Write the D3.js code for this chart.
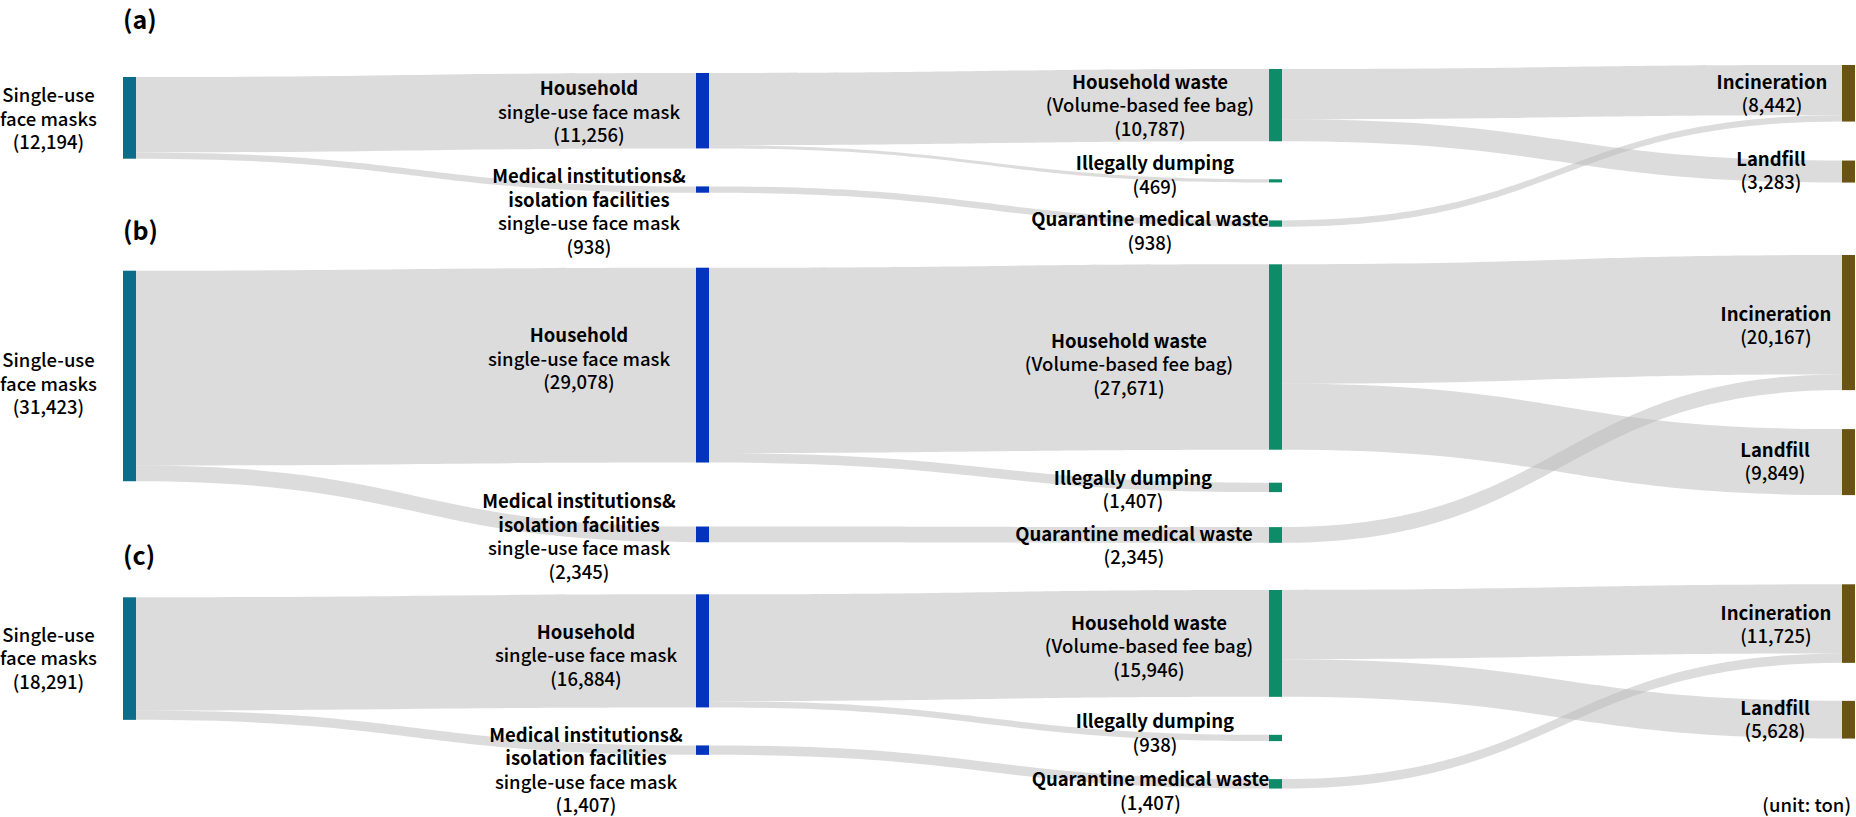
<!DOCTYPE html>
<html>
<head>
<meta charset="utf-8">
<script src="https://cdn.jsdelivr.net/npm/d3@7"></script>
<style>
  html, body { margin: 0; padding: 0; background: #ffffff; }
  svg { display: block; }
  text { font-family: 'Noto Sans CJK KR', 'Noto Sans', sans-serif; fill: #000; }
</style>
</head>
<body>
<script>
// ---------------- DATA (unit: ton) ----------------
const panels = ["(a)", "(b)", "(c)"];
const sourceTotals     = [12194, 31423, 18291];
const householdMask    = [11256, 29078, 16884];
const medicalMask      = [938, 2345, 1407];
const householdWaste   = [10787, 27671, 15946];
const illegalDumping   = [469, 1407, 938];
const quarantineWaste  = [938, 2345, 1407];
const incineration     = [8442, 20167, 11725];
const landfill         = [3283, 9849, 5628];
const unitLabel = "(unit: ton)";

// node label lines: [text, bold]
const nodeLabels = {
  src: [["Single-use", false], ["face masks", false]],
  hh:  [["Household", true], ["single-use face mask", false]],
  med: [["Medical institutions&", true], ["isolation facilities", true], ["single-use face mask", false]],
  hw:  [["Household waste", true], ["(Volume-based fee bag)", false]],
  ill: [["Illegally dumping", true]],
  qua: [["Quarantine medical waste", true]],
  inc: [["Incineration", true]],
  lan: [["Landfill", true]]
};

// ---------------- LAYOUT ----------------
const W = 1856, H = 817;
const nodeWidth = 13;
const lineH = 23.5;
const fontSize = 18.5;
const colorsByCol = ["#0b6d89", "#0433be", "#0e8b69", "#6a5313"];
const panelTop = [77, 270.7, 597.3];
const colShift = [[0, -4, -8, -12], [0, -3, -6.4, -15.7], [0, -3, -7.3, -13]];
const nodeGaps = [
  [[], [38], [38, 38], [39]],
  [[], [64], [33, 35], [39]],
  [[], [38], [38, 38], [38]]
];
const titleY = [18, 229, 554];
// label offsets [dx of label centre from node left edge, dy from node centre]
const labelOffsets = [
  {src: [-74.5, 0], hh: [-107, 0], med: [-107, 21], hw: [-119, -1], ill: [-114, -7], qua: [-119, 6.5], inc: [-70, -1], lan: [-71, -2]},
  {src: [-74.5, 7], hh: [-117, -7.5], med: [-117, 1], hw: [-140, 6.3], ill: [-136, 1], qua: [-135, 9.3], inc: [-66, 2], lan: [-67, -1.5]},
  {src: [-74.5, -1.5], hh: [-110, 3.5], med: [-110, 19], hw: [-120, 1.6], ill: [-114, -6], qua: [-118.5, 6.2], inc: [-66, 0], lan: [-67, -1.4]}
];

const xCol = d3.scaleLinear().domain([0, 3]).range([123, 1842]);
const hScale = d3.scaleLinear().domain([0, 10000]).range([0, 67]);
const fmt = d3.format(",");

const svg = d3.select("body").append("svg").attr("width", W).attr("height", H);
const gLinks = svg.append("g");
const gNodes = svg.append("g");
const gText = svg.append("g");

function bandPath(x0, s0, s1, x1, t0, t1) {
  const xm = (x0 + x1) / 2;
  const p = d3.path();
  p.moveTo(x0, s0);
  p.bezierCurveTo(xm, s0, xm, t0, x1, t0);
  p.lineTo(x1, t1);
  p.bezierCurveTo(xm, t1, xm, s1, x0, s1);
  p.closePath();
  return p.toString();
}

panels.forEach((title, p) => {
  const nodes = [
    {id: "src", col: 0, value: sourceTotals[p]},
    {id: "hh",  col: 1, value: householdMask[p]},
    {id: "med", col: 1, value: medicalMask[p]},
    {id: "hw",  col: 2, value: householdWaste[p]},
    {id: "ill", col: 2, value: illegalDumping[p]},
    {id: "qua", col: 2, value: quarantineWaste[p]},
    {id: "inc", col: 3, value: incineration[p]},
    {id: "lan", col: 3, value: landfill[p]}
  ];
  const byId = {};
  nodes.forEach(n => byId[n.id] = n);
  // vertical stacking per column
  [0, 1, 2, 3].forEach(c => {
    let y = panelTop[p] + colShift[p][c];
    nodes.filter(n => n.col === c).forEach((n, j) => {
      if (j > 0) y += nodeGaps[p][c][j - 1];
      n.x0 = xCol(c); n.x1 = n.x0 + nodeWidth;
      n.y0 = y; n.y1 = y + hScale(n.value);
      n.outOff = n.y0; n.inOff = n.y0;
      y = n.y1;
    });
  });

  const links = [
    ["src", "hh",  householdMask[p]],
    ["src", "med", medicalMask[p]],
    ["hh",  "hw",  householdWaste[p]],
    ["hh",  "ill", illegalDumping[p]],
    ["med", "qua", quarantineWaste[p]],
    ["hw",  "inc", incineration[p] - quarantineWaste[p]],
    ["hw",  "lan", landfill[p]],
    ["qua", "inc", quarantineWaste[p]]
  ].map(([s, t, v]) => {
    const S = byId[s], T = byId[t], w = hScale(v);
    const l = {S, T, v, s0: S.outOff, s1: S.outOff + w, t0: T.inOff, t1: T.inOff + w};
    S.outOff += w; T.inOff += w;
    return l;
  });

  gLinks.selectAll(null).data(links).enter().append("path")
    .attr("d", l => bandPath(l.S.x1, l.s0, l.s1, l.T.x0, l.t0, l.t1))
    .attr("fill", "#b9b9b9")
    .attr("fill-opacity", 0.5);

  gNodes.selectAll(null).data(nodes).enter().append("rect")
    .attr("x", n => n.x0)
    .attr("y", n => n.y0)
    .attr("width", nodeWidth)
    .attr("height", n => Math.max(1, n.y1 - n.y0))
    .attr("fill", n => colorsByCol[n.col]);

  // labels
  nodes.forEach(n => {
    const lines = nodeLabels[n.id].concat([["(" + fmt(n.value) + ")", false]]);
    const [dx, dy] = labelOffsets[p][n.id];
    const cx = n.x0 + dx;
    const cy = (n.y0 + n.y1) / 2 + dy;
    const t = gText.append("text")
      .attr("text-anchor", "middle")
      .attr("font-size", fontSize);
    lines.forEach((ln, i) => {
      t.append("tspan")
        .attr("x", cx)
        .attr("y", cy + (i - (lines.length - 1) / 2) * lineH)
        .attr("dominant-baseline", "central")
        .attr("font-weight", ln[1] ? 700 : 500)
        .text(ln[0]);
    });
  });

  gText.append("text")
    .attr("x", xCol(0))
    .attr("y", titleY[p])
    .attr("dominant-baseline", "central")
    .attr("font-size", 25)
    .attr("font-weight", 700)
    .text(title);
});

gText.append("text")
  .attr("x", 1851)
  .attr("y", 804)
  .attr("text-anchor", "end")
  .attr("dominant-baseline", "central")
  .attr("font-size", fontSize)
  .attr("font-weight", 500)
  .text(unitLabel);
</script>
</body>
</html>
